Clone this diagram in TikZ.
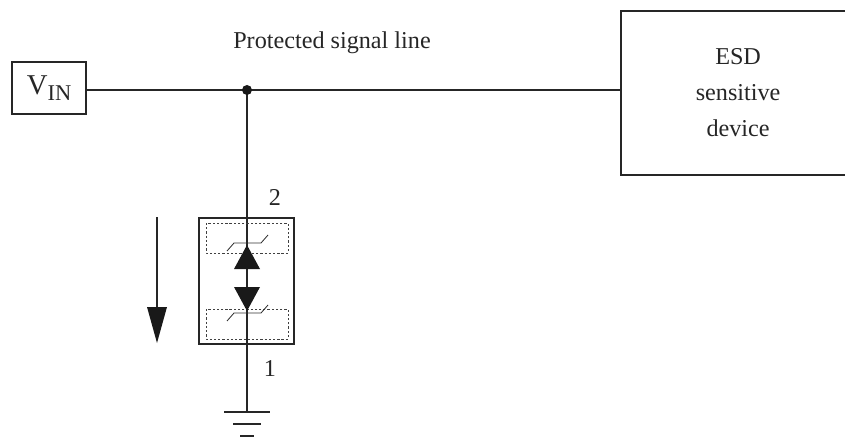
\documentclass[tikz,border=0pt]{standalone}
\usepackage{fontspec}
\setmainfont{Liberation Serif}
\usetikzlibrary{calc}
\tikzset{
	wire/.style={line width=1.1pt, black!85},
	thickbox/.style={draw=black!85, line width=1.5pt},
	dashbox/.style={draw, line width=0.5pt, dash pattern=on 1.6pt off 1.4pt, black!75},
	zenerbar/.style={line width=0.6pt, black!80},
	solidhead/.style={fill=black!90, draw=none},
	lbl/.style={font=\fontsize{17.2}{25.6}\selectfont, text=black!85, inner sep=0pt}
}
\begin{document}
\begin{tikzpicture}[x=0.025cm, y=-0.025cm]
	\useasboundingbox (0,0) rectangle (845,439);

	% source and load
	\node [thickbox, lbl, minimum width=1.85cm, minimum height=1.3cm, anchor=north west] (vin) at (11,61) {{\fontsize{20.4}{24}\selectfont V}\raisebox{-0.15cm}{\fontsize{16}{18}\selectfont IN}};
	\node [thickbox, lbl, minimum width=5.85cm, minimum height=4.1cm, anchor=north west, align=center] (esd) at (620,10) {ESD\\sensitive\\device};

	\coordinate (junction) at (247,90);
	\coordinate (gnd) at (247,412);
	\draw [wire] (vin.east |- junction) -- (esd.west |- junction);
	\draw [wire] (junction) -- (gnd);
	\fill [black!90] (junction) circle (5);

	\node [lbl] (signal) at (332,43) {Protected signal line};
	\node [lbl] (pin2) at (275,197) {2};
	\node [lbl] (pin1) at (270,369) {1};

	% protection device
	\draw [thickbox] (199,218) rectangle (294,344);
	\draw [dashbox] (206,223) rectangle (288,253);
	\draw [dashbox] (206,309) rectangle (288,339);
	\foreach \y in {243,313}
	{
		\draw [zenerbar] (227,\y+8) -- (234,\y) -- (261,\y) -- (268,\y-8);
	}
	\fill [solidhead] (247,245) -- (260,269) -- (234,269) -- cycle;
	\fill [solidhead] (247,311) -- (260,287) -- (234,287) -- cycle;

	% current direction
	\draw [thickbox] (157,217) -- (157,310);
	\fill [solidhead] (157,343) -- (167,307) -- (147,307) -- cycle;

	% ground
	\draw [wire] (224,412) -- (270,412);
	\draw [wire] (233,424) -- (261,424);
	\draw [wire] (240,436) -- (254,436);
\end{tikzpicture}
\end{document}
